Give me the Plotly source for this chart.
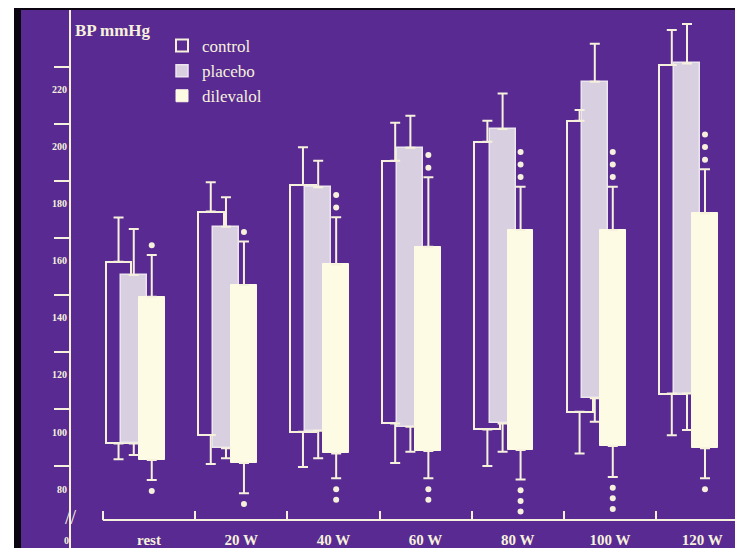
import plotly.graph_objects as go

# ---------------- data (mmHg) ----------------
categories = ["rest", "20 W", "40 W", "60 W", "80 W", "100 W", "120 W"]

control_sys = [159.6, 177.2, 186.5, 195.0, 201.7, 209.0, 228.5]
control_sys_sd = [15.5, 10.3, 13.2, 13.3, 7.3, 3.8, 12.3]
control_dia = [96.0, 99.0, 100.1, 103.0, 100.9, 107.1, 113.5]
control_dia_sd = [5.5, 10.2, 12.3, 13.8, 12.8, 14.6, 14.6]

placebo_sys = [155.0, 171.9, 185.7, 199.6, 206.1, 222.7, 229.1]
placebo_sys_sd = [16.1, 10.3, 9.3, 11.2, 12.5, 13.3, 13.8]
placebo_dia = [96.0, 94.3, 100.5, 101.9, 103.0, 111.8, 113.5]
placebo_dia_sd = [4.0, 3.5, 9.7, 8.8, 9.9, 8.2, 12.8]

dilevalol_sys = [147.4, 151.5, 158.7, 164.9, 170.8, 170.8, 176.6]
dilevalol_sys_sd = [14.6, 15.2, 16.5, 24.3, 15.1, 15.1, 15.4]
dilevalol_dia = [90.2, 89.2, 92.5, 93.4, 93.7, 95.1, 94.3]
dilevalol_dia_sd = [7.0, 10.6, 8.7, 9.6, 10.3, 10.8, 10.5]

stars_above = [1, 1, 2, 2, 3, 3, 3]
stars_below = [1, 1, 2, 2, 3, 3, 1]

y_tick_values = [80, 100, 120, 140, 160, 180, 200, 220]
y_tick_marks = [88, 108, 128, 148, 168, 188, 208, 228]

# ---------------- style ----------------
PURPLE = "#582a92"
CREAM = "#f6f1dc"
PLACEBO_FILL = "#d8cfe0"
DIL_FILL = "#fdfbe4"
SERIF = "Liberation Serif, Times New Roman, serif"

# the page body has an 8px margin, so the figure covers page pixels 8..743 / 8..548
OFFSET = 8
PAGE_W, PAGE_H = 743, 548
W, H = PAGE_W - OFFSET, PAGE_H - OFFSET
# plot area in page pixels: x 21..738, y 10..548
PL, PR, PT, PB = 21, 738, 10, 548
L, R, T, B = PL - OFFSET, PAGE_W - PR, PT - OFFSET, PAGE_H - PB
PW, PH = PR - PL, PB - PT
Y_RANGE = [59.4, 247.8]
X_RANGE = [-1.388, 6.388]


def px_x(p):
    return (p - PL) / PW


def px_y(p):
    return (PB - p) / PH


n = len(categories)
idx = list(range(n))
BAR_W = 0.28
offsets = {"control": -0.33, "placebo": -0.165, "dilevalol": 0.03}

fig = go.Figure()


def add_series(name, sys, dia, off, fill, lcol, lw):
    xs = [i + off for i in idx]
    fig.add_trace(go.Bar(
        x=xs, y=[s - d for s, d in zip(sys, dia)], base=dia, width=BAR_W,
        name=name, marker=dict(color=fill, line=dict(color=lcol, width=lw)),
        hoverinfo="skip",
    ))
    return xs


def add_errors(xs, sys, sys_sd, dia, dia_sd):
    fig.add_trace(go.Scatter(
        x=xs, y=sys, mode="markers", showlegend=False, hoverinfo="skip",
        marker=dict(size=1, color="rgba(0,0,0,0)"),
        error_y=dict(type="data", symmetric=False, array=sys_sd,
                     arrayminus=[0] * len(sys), color=CREAM, thickness=2, width=5),
    ))
    fig.add_trace(go.Scatter(
        x=xs, y=dia, mode="markers", showlegend=False, hoverinfo="skip",
        marker=dict(size=1, color="rgba(0,0,0,0)"),
        error_y=dict(type="data", symmetric=False, array=[0] * len(dia),
                     arrayminus=dia_sd, color=CREAM, thickness=2, width=5),
    ))


xc = add_series("control", control_sys, control_dia,
                offsets["control"], "rgba(0,0,0,0)", CREAM, 2)
xp = add_series("placebo", placebo_sys, placebo_dia,
                offsets["placebo"], PLACEBO_FILL, "#ebe5ee", 1.5)
xd = add_series("dilevalol", dilevalol_sys, dilevalol_dia,
                offsets["dilevalol"], DIL_FILL, DIL_FILL, 1)

add_errors(xc, control_sys, control_sys_sd, control_dia, control_dia_sd)
add_errors(xp, placebo_sys, placebo_sys_sd, placebo_dia, placebo_dia_sd)
add_errors(xd, dilevalol_sys, dilevalol_sys_sd, dilevalol_dia, dilevalol_dia_sd)

# significance asterisks (drawn as dots) above / below dilevalol whiskers
sx, sy = [], []
for i in idx:
    top = dilevalol_sys[i] + dilevalol_sys_sd[i]
    for k in range(stars_above[i]):
        sx.append(xd[i])
        sy.append(top + 3.4 + 4.4 * k)
    bot = dilevalol_dia[i] - dilevalol_dia_sd[i]
    for k in range(stars_below[i]):
        sx.append(xd[i])
        sy.append(bot - 3.8 - 3.7 * k)
fig.add_trace(go.Scatter(x=sx, y=sy, mode="markers", showlegend=False, hoverinfo="skip",
                         marker=dict(size=6, color=CREAM)))

axis_x_pos = px_y(520)
axis_y_pos = px_x(70)

fig.update_layout(
    width=W, height=H,
    margin=dict(l=L, r=R, t=T, b=B, pad=0, autoexpand=False),
    paper_bgcolor="#0a0510",
    plot_bgcolor=PURPLE,
    barmode="overlay",
    bargap=0,
    showlegend=True,
    legend=dict(
        x=px_x(162), y=px_y(28), xanchor="left", yanchor="top",
        bgcolor="rgba(0,0,0,0)", font=dict(family=SERIF, size=17, color=CREAM),
        traceorder="normal", itemclick=False, itemdoubleclick=False,
    ),
    xaxis=dict(
        range=X_RANGE, anchor="free", position=axis_x_pos, automargin=False,
        tickvals=idx, ticktext=["<b>%s</b>" % c for c in categories],
        ticks="outside", ticklen=6, tickcolor="rgba(0,0,0,0)",
        tickfont=dict(family=SERIF, size=15, color=CREAM),
        showline=False, showgrid=False, zeroline=False,
        minor=dict(tickvals=[i - 0.5 for i in idx], ticks="inside", ticklen=9,
                   tickwidth=2, tickcolor=CREAM, showgrid=False),
    ),
    yaxis=dict(
        range=Y_RANGE, anchor="free", position=axis_y_pos, automargin=False,
        tickvals=y_tick_values, ticktext=["<b>%d</b>" % v for v in y_tick_values],
        ticks="", tickfont=dict(family=SERIF, size=10, color=CREAM),
        showline=True, linecolor=CREAM, linewidth=2,
        showgrid=False, zeroline=False,
        minor=dict(tickvals=y_tick_marks, ticks="outside", ticklen=15,
                   tickwidth=2, tickcolor=CREAM, showgrid=False),
    ),
    shapes=[
        # x-axis baseline
        dict(type="line", xref="x", yref="paper", x0=-0.5, x1=X_RANGE[1],
             y0=axis_x_pos, y1=axis_x_pos, line=dict(color=CREAM, width=2)),
        # white photo border (left & right)
        dict(type="rect", xref="paper", yref="paper", x0=px_x(0), x1=px_x(14),
             y0=px_y(PAGE_H + 2), y1=px_y(-2), fillcolor="white", line=dict(width=0)),
        dict(type="rect", xref="paper", yref="paper", x0=px_x(742), x1=px_x(PAGE_W + 2),
             y0=px_y(PAGE_H + 2), y1=px_y(-2), fillcolor="white", line=dict(width=0)),
    ],
    annotations=[
        dict(text="<b>BP mmHg</b>", xref="paper", yref="paper", x=px_x(73), y=px_y(31),
             xanchor="left", yanchor="middle", showarrow=False,
             font=dict(family=SERIF, size=17, color=CREAM)),
        dict(text="<b>0</b>", xref="paper", yref="paper", x=px_x(66), y=px_y(540),
             xanchor="center", yanchor="middle", showarrow=False,
             font=dict(family=SERIF, size=10, color=CREAM)),
        dict(text="//", xref="paper", yref="paper", x=px_x(71), y=px_y(517),
             xanchor="center", yanchor="middle", showarrow=False,
             font=dict(family=SERIF, size=20, color=CREAM)),
    ],
)

fig.write_html("out.html")
